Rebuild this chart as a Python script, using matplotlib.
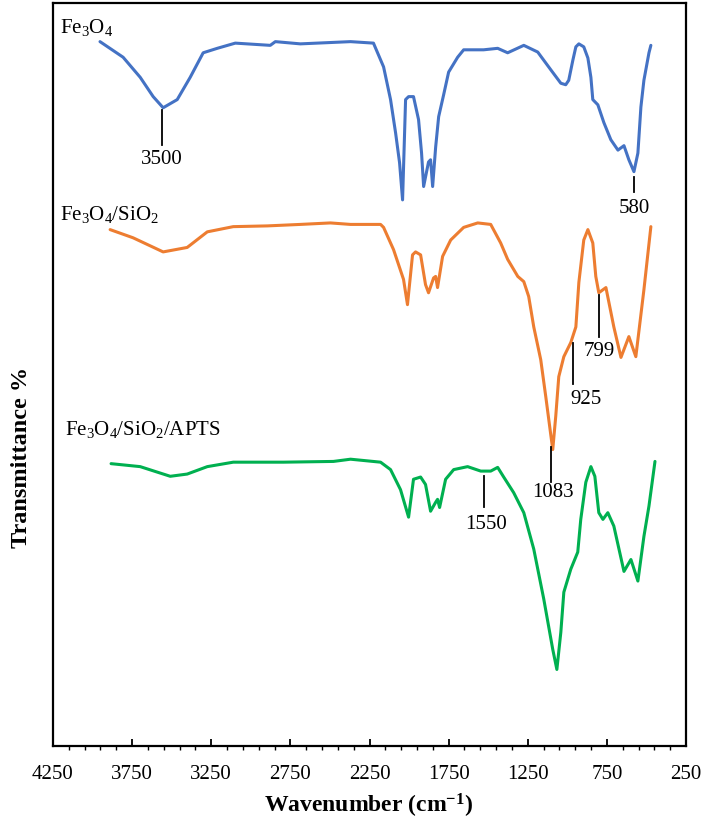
import matplotlib
matplotlib.use('Agg')
import matplotlib.pyplot as plt
from matplotlib.ticker import FixedLocator, AutoMinorLocator

plt.rcParams['font.family'] = ['Liberation Serif', 'DejaVu Serif']
plt.rcParams['mathtext.fontset'] = 'custom'
plt.rcParams['mathtext.rm'] = 'Liberation Serif'
plt.rcParams['mathtext.it'] = 'Liberation Serif:italic'
plt.rcParams['mathtext.bf'] = 'Liberation Serif:bold'

# spectra (wavenumber cm-1, transmittance in arbitrary %)
fe3o4_wn = [3953, 3807, 3699, 3617, 3554, 3465, 3383, 3301, 3212, 3098, 2877, 2845,
            2687, 2370, 2225, 2161, 2117, 2085, 2060, 2041, 2022, 2003, 1972, 1940,
            1921, 1908, 1877, 1864, 1851, 1832, 1813, 1782, 1750, 1693, 1655, 1529,
            1440, 1377, 1275, 1187, 1104, 1041, 1010, 991, 965, 946, 927, 896, 870,
            851, 839, 807, 769, 725, 680, 642, 611, 579, 554, 535, 516, 484, 472]
fe3o4_t = [94.8, 92.7, 90.0, 87.4, 85.9, 87.0, 90.0, 93.3, 93.9, 94.6, 94.3, 94.8,
           94.5, 94.8, 94.6, 91.4, 87.0, 82.5, 78.5, 73.5, 87.0, 87.4, 87.4, 84.3,
           79.8, 75.3, 78.6, 78.9, 75.3, 80.6, 84.7, 87.6, 90.7, 92.7, 93.7, 93.7,
           93.9, 93.3, 94.3, 93.4, 91.0, 89.2, 89.0, 89.6, 92.3, 94.1, 94.5, 94.1, 92.6,
           90.0, 87.0, 86.3, 83.9, 81.6, 80.2, 80.8, 78.9, 77.3, 79.8, 86.0, 89.6, 93.3, 94.3]

sio2_wn = [3889, 3744, 3554, 3402, 3275, 3111, 2896, 2687, 2497, 2370, 2180, 2161,
           2098, 2035, 2010, 1978, 1959, 1927, 1896, 1877, 1845, 1832, 1820, 1788,
           1737, 1655, 1566, 1484, 1421, 1377, 1313, 1275, 1244, 1212, 1168, 1136,
           1104, 1092, 1073, 1054, 1022, 978, 946, 927, 896, 870, 839, 820, 801,
           756, 706, 661, 611, 567, 516, 472]
sio2_t = [69.5, 68.4, 66.5, 67.1, 69.2, 69.9, 70.0, 70.2, 70.4, 70.2, 70.2, 69.8,
          66.8, 62.8, 59.4, 66.1, 66.5, 66.1, 62.1, 61.0, 63.0, 63.2, 61.7, 65.9,
          68.1, 69.8, 70.4, 70.2, 67.7, 65.5, 63.2, 62.5, 60.5, 56.4, 52.0, 47.0,
          41.8, 39.9, 44.4, 49.7, 52.4, 54.3, 56.4, 62.4, 68.1, 69.5, 67.7, 63.2, 61.0,
          61.7, 56.4, 52.3, 55.1, 52.4, 61.4, 69.9]

apts_wn = [3883, 3699, 3509, 3402, 3275, 3111, 2794, 2478, 2370, 2180, 2117, 2054,
           2003, 1972, 1927, 1896, 1864, 1832, 1820, 1807, 1769, 1718, 1630, 1547,
           1484, 1440, 1402, 1339, 1275, 1212, 1149, 1092, 1066, 1041, 1022, 978,
           934, 915, 883, 851, 826, 801, 775, 744, 706, 642, 598, 554, 516, 484, 446]
apts_t = [38.0, 37.6, 36.3, 36.6, 37.6, 38.2, 38.2, 38.3, 38.6, 38.2, 37.2, 34.5,
          30.8, 35.9, 36.2, 35.2, 31.6, 32.8, 33.2, 32.1, 35.9, 37.2, 37.6, 37.0,
          37.0, 37.5, 36.2, 34.1, 31.4, 26.5, 19.8, 13.0, 10.3, 15.3, 20.7, 23.8,
          26.1, 30.5, 35.5, 37.6, 36.3, 31.4, 30.5, 31.4, 29.6, 23.5, 25.1, 22.2,
          28.2, 32.3, 38.3]

series_names = [r'Fe$_3$O$_4$', r'Fe$_3$O$_4$/SiO$_2$', r'Fe$_3$O$_4$/SiO$_2$/APTS']
series_colors = ['#4472C4', '#ED7D31', '#00B050']
name_pos = [(4206, 96.0), (4206, 70.8), (4174, 41.9)]

# peak marks: tick x, tick top, tick bottom, label x, label y, text
peak_x = [3560, 579, 801, 962, 1105, 1528]
peak_top = [85.6, 76.6, 60.7, 54.3, 40.2, 36.3]
peak_bot = [80.9, 74.5, 55.1, 48.7, 35.5, 32.1]
peak_lx = [3560, 579, 801, 883, 1092, 1515]
peak_ly = [78.9, 72.3, 53.1, 46.6, 34.1, 29.8]
peak_txt = ['3500', '580', '799', '925', '1083', '1550']

fig = plt.figure(figsize=(7.02, 8.25), dpi=100)
ax = fig.add_axes([53 / 702, 79 / 825, 633 / 702, 743 / 825])

for wn, t, c in zip([fe3o4_wn, sio2_wn, apts_wn], [fe3o4_t, sio2_t, apts_t], series_colors):
    ax.plot(wn, t, color=c, lw=2.2, solid_capstyle='round', solid_joinstyle='round')

for (x, y), name in zip(name_pos, series_names):
    ax.text(x, y, name, fontsize=15, ha='left', va='baseline')

for x, y0, y1, lx, ly, s in zip(peak_x, peak_top, peak_bot, peak_lx, peak_ly, peak_txt):
    ax.plot([x, x], [y0, y1], color='black', lw=1.3)
    ax.text(lx, ly, s, fontsize=15, ha='center', va='center')

ax.set_xlim(4250, 250)
ax.set_ylim(0, 100)
ax.xaxis.set_major_locator(FixedLocator(list(range(4250, 249, -500))))
ax.xaxis.set_minor_locator(AutoMinorLocator(5))
ax.tick_params(axis='x', which='major', direction='in', length=5, width=1.3,
               labelsize=15, pad=14)
ax.tick_params(axis='x', which='minor', direction='out', length=3, width=1.0)
ax.set_yticks([])
for sp in ax.spines.values():
    sp.set_linewidth(1.6)

fig.text(369 / 702, 1 - 806 / 825, r'Wavenumber (cm$^{\mathbf{-1}}$)',
         fontsize=17, fontweight='bold', ha='center', va='center')
fig.text(22 / 702, 1 - 457 / 825, 'Transmittance %', fontsize=17.5, fontweight='bold',
         rotation=90, ha='center', va='center')

fig.savefig('out.png', dpi=100)
